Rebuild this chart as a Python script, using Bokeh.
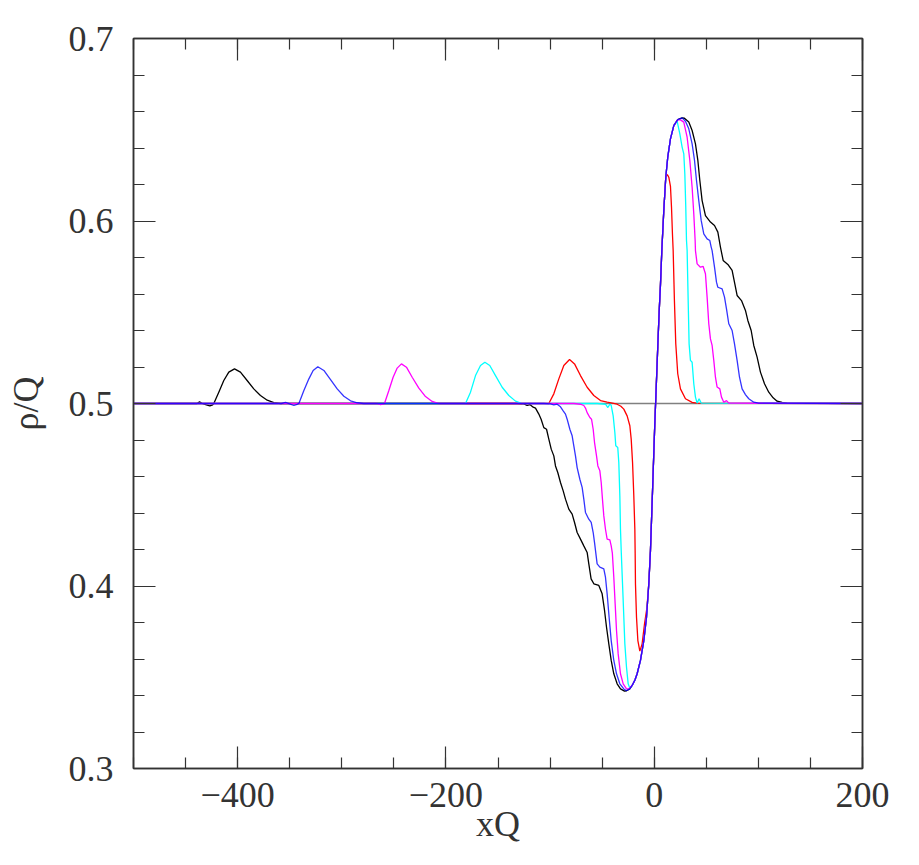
from bokeh.plotting import figure
from bokeh.models import Range1d, FixedTicker, LinearAxis, CustomJSTickFormatter
from bokeh.embed import file_html
from bokeh.resources import INLINE

# ---------------- data ----------------
x_major = [-400, -200, 0, 200]
x_major_labels = ["\u2212400", "\u2212200", "0", "200"]
x_minor = [-500, -450, -400, -350, -300, -250, -200, -150, -100, -50, 0, 50, 100, 150, 200]
y_major = [0.3, 0.4, 0.5, 0.6, 0.7]
y_major_labels = ["0.3", "0.4", "0.5", "0.6", "0.7"]
y_minor = [0.30, 0.32, 0.34, 0.36, 0.38, 0.40, 0.42, 0.44, 0.46, 0.48, 0.50,
           0.52, 0.54, 0.56, 0.58, 0.60, 0.62, 0.64, 0.66, 0.68, 0.70]

reference_x = [-500, 200]
reference_y = [0.5, 0.5]

# shared rising flank (trough -> peak) common to all curves
rise = [(-26.6, 0.3426), (-23.5, 0.3436), (-21.2, 0.3455), (-18.5, 0.3485), (-16.4, 0.3519),
        (-13.2, 0.3592), (-10.0, 0.3701), (-7.4, 0.3829), (-5.2, 0.4012), (-3.6, 0.4195),
        (-1.5, 0.4540), (0.5, 0.4880), (2.0, 0.5100), (3.4, 0.5310), (4.8, 0.5510),
        (6.0, 0.5650), (7.3, 0.5838), (9.2, 0.6058), (11.1, 0.6240), (13.0, 0.6350),
        (15.6, 0.6450), (18.8, 0.6523), (22.6, 0.6556), (26.8, 0.6565), (29.0, 0.6563)]

black_left = [(-500, 0.5), (-445, 0.5), (-439, 0.5), (-436.6, 0.5009), (-434, 0.5), (-430, 0.4992),
              (-426.7, 0.4987), (-424, 0.4993), (-422.9, 0.5), (-418.1, 0.5062), (-413.3, 0.5126),
              (-408.5, 0.5172), (-403.0, 0.5190), (-397.3, 0.5172), (-390.9, 0.5126), (-384.5, 0.5080),
              (-378.1, 0.5044), (-371.6, 0.5018), (-365.2, 0.5005), (-358.8, 0.5), (-131.6, 0.5),
              (-125.2, 0.4998), (-122.0, 0.4989), (-119.4, 0.4994), (-116.2, 0.4980), (-114.0, 0.4975),
              (-110.8, 0.4942), (-108.6, 0.4914), (-106.0, 0.4868), (-103.4, 0.4859), (-101.2, 0.4805),
              (-98.9, 0.4750), (-96.4, 0.4713), (-94.8, 0.4658), (-92.6, 0.4622), (-90.0, 0.4567),
              (-87.4, 0.4521), (-85.2, 0.4476), (-82.0, 0.4421), (-78.8, 0.4394), (-76.5, 0.4348),
              (-74.0, 0.4293), (-70.8, 0.4257), (-67.6, 0.4220), (-64.4, 0.4184), (-62.8, 0.4121),
              (-60.6, 0.4039), (-58.0, 0.4012), (-53.2, 0.4003), (-50.0, 0.3957), (-47.7, 0.3866),
              (-45.8, 0.3774), (-43.6, 0.3683), (-41.3, 0.3592), (-38.8, 0.3519), (-35.6, 0.3464),
              (-32.4, 0.3436), (-28.5, 0.3424)]
black_right = [(33.2, 0.6542), (36.4, 0.6496), (39.6, 0.6423), (41.9, 0.6332), (43.8, 0.6222),
               (46.0, 0.6112), (49.2, 0.6030), (54.0, 0.5994), (57.9, 0.5975), (61.1, 0.5939),
               (63.6, 0.5857), (66.2, 0.5784), (70.7, 0.5762), (74.8, 0.5729), (77.4, 0.5656),
               (79.6, 0.5592), (83.8, 0.5564), (87.6, 0.5510), (89.9, 0.5455), (93.1, 0.5400),
               (95.6, 0.5318), (98.8, 0.5254), (102.0, 0.5172), (105.9, 0.5108), (110.0, 0.5062),
               (114.2, 0.5031), (118.0, 0.5013), (122.8, 0.5006), (127.6, 0.5002), (200, 0.5)]

blue_left = [(-500, 0.5), (-358, 0.5), (-354, 0.5006), (-350, 0.4998), (-346, 0.4989), (-343, 0.4995),
             (-341.2, 0.5), (-336.4, 0.5071), (-331.6, 0.5135), (-327.5, 0.5181), (-323.0, 0.5201),
             (-317.2, 0.5181), (-310.8, 0.5131), (-304.4, 0.5080), (-298.0, 0.5040), (-291.6, 0.5015),
             (-285.2, 0.5004), (-278.8, 0.5), (-106.0, 0.5), (-99.6, 0.4998), (-96.4, 0.4993),
             (-93.2, 0.4996), (-90.0, 0.4982), (-87.4, 0.4960), (-85.2, 0.4942), (-83.6, 0.4914),
             (-81.0, 0.4859), (-78.8, 0.4823), (-77.2, 0.4768), (-75.6, 0.4713), (-74.0, 0.4649),
             (-71.4, 0.4585), (-69.2, 0.4540), (-67.6, 0.4476), (-66.0, 0.4403), (-62.8, 0.4366),
             (-60.5, 0.4348), (-58.6, 0.4293), (-57.3, 0.4238), (-56.4, 0.4195), (-54.8, 0.4121),
             (-52.2, 0.4103), (-48.4, 0.4094), (-46.8, 0.4048), (-45.2, 0.3957), (-43.3, 0.3829),
             (-41.3, 0.3701), (-38.8, 0.3592), (-36.2, 0.3519), (-33.0, 0.3464), (-29.2, 0.3436)]
blue_right = [(30.0, 0.6547), (33.2, 0.6505), (36.4, 0.6423), (38.7, 0.6332), (40.6, 0.6222),
              (42.8, 0.6112), (45.1, 0.6003), (47.6, 0.5930), (50.8, 0.5902), (53.4, 0.5893),
              (54.7, 0.5857), (55.6, 0.5838), (57.9, 0.5747), (59.8, 0.5665), (61.1, 0.5637),
              (65.2, 0.5628), (67.5, 0.5583), (69.4, 0.5519), (71.6, 0.5437), (74.8, 0.5400),
              (77.1, 0.5327), (79.6, 0.5236), (81.9, 0.5144), (84.4, 0.5080), (87.6, 0.5049),
              (90.8, 0.5026), (95.6, 0.5007), (100.4, 0.5002), (200, 0.5)]

magenta_left = [(-500, 0.5), (-266.0, 0.5), (-262.8, 0.4994), (-259.0, 0.5), (-254.8, 0.5071),
                (-250.7, 0.5144), (-246.8, 0.5194), (-242.7, 0.5217), (-237.9, 0.5199), (-232.4, 0.5144),
                (-226.0, 0.5084), (-219.6, 0.5038), (-213.2, 0.5011), (-206.8, 0.5), (-77.2, 0.5),
                (-70.8, 0.4996), (-67.6, 0.4989), (-66.0, 0.4975), (-64.4, 0.4950), (-61.8, 0.4923),
                (-60.2, 0.4914), (-58.6, 0.4859), (-57.3, 0.4786), (-55.4, 0.4713), (-54.1, 0.4658),
                (-52.2, 0.4631), (-50.9, 0.4567), (-49.7, 0.4476), (-48.4, 0.4384), (-46.8, 0.4311),
                (-45.2, 0.4257), (-42.6, 0.4253), (-41.3, 0.4220), (-40.2, 0.4180), (-38.8, 0.4048),
                (-37.5, 0.3902), (-36.2, 0.3756), (-34.6, 0.3628), (-32.4, 0.3519), (-29.8, 0.3464),
                (-26.6, 0.3436), (-24.4, 0.3436)]
magenta_right = [(25.2, 0.6554), (28.4, 0.6542), (31.6, 0.6459), (34.2, 0.6332), (36.4, 0.6185),
                 (38.0, 0.6039), (39.3, 0.5893), (39.6, 0.5838), (41.2, 0.5765), (44.4, 0.5747),
                 (47.0, 0.5751), (49.2, 0.5711), (50.8, 0.5583), (52.4, 0.5437), (54.0, 0.5354),
                 (55.6, 0.5318), (57.2, 0.5236), (58.8, 0.5144), (60.4, 0.5090), (63.0, 0.5080),
                 (64.6, 0.5035), (66.8, 0.5007), (69.4, 0.5016), (71.6, 0.5002), (200, 0.5)]

cyan_left = [(-500, 0.5), (-183.0, 0.5), (-181.2, 0.5), (-176.4, 0.5062), (-171.6, 0.5153),
             (-166.8, 0.5208), (-162.6, 0.5226), (-157.9, 0.5208), (-152.4, 0.5153), (-146.0, 0.5089),
             (-139.6, 0.5044), (-133.2, 0.5013), (-126.8, 0.5), (-54.8, 0.5), (-46.8, 0.4996),
             (-44.5, 0.4978), (-42.6, 0.4996), (-41.3, 0.4990), (-39.4, 0.4932), (-37.8, 0.4841),
             (-36.9, 0.4768), (-35.0, 0.4759), (-34.0, 0.4677), (-33.0, 0.4494), (-32.4, 0.4311),
             (-31.6, 0.4180), (-29.8, 0.3921), (-28.2, 0.3683), (-26.6, 0.3555), (-25.0, 0.3464),
             (-23.4, 0.3440)]
cyan_right = [(22.0, 0.6547), (24.6, 0.6478), (26.8, 0.6405), (28.4, 0.6368), (29.4, 0.6258),
              (30.3, 0.6076), (31.0, 0.5893), (31.6, 0.5838), (32.6, 0.5564), (33.5, 0.5327),
              (34.8, 0.5236), (36.4, 0.5226), (38.0, 0.5108), (39.6, 0.5035), (41.2, 0.5002),
              (43.1, 0.5026), (45.1, 0.5002), (200, 0.5)]

red_left = [(-500, 0.5), (-103.0, 0.5), (-101.2, 0.5), (-96.4, 0.5053), (-91.6, 0.5135),
            (-86.8, 0.5208), (-81.3, 0.5241), (-76.5, 0.5217), (-70.8, 0.5153), (-64.4, 0.5089),
            (-58.0, 0.5044), (-51.6, 0.5016), (-45.2, 0.5007), (-40.0, 0.5002), (-35.6, 0.4996),
            (-32.0, 0.4985), (-29.2, 0.4969), (-26.0, 0.4932), (-23.4, 0.4878), (-22.1, 0.4805),
            (-20.8, 0.4677), (-19.6, 0.4494), (-18.6, 0.4311), (-18.3, 0.4180), (-18.0, 0.4012),
            (-17.0, 0.3829), (-15.7, 0.3701), (-13.8, 0.3643), (-11.6, 0.3683), (-9.3, 0.3793),
            (-7.0, 0.3880)]
red_right = [(12.6, 0.6255), (14.0, 0.6240), (15.6, 0.6190), (16.6, 0.6076), (17.5, 0.5930),
             (18.2, 0.5838), (19.4, 0.5564), (20.7, 0.5327), (22.6, 0.5163), (25.2, 0.5080),
             (30.0, 0.5026), (36.4, 0.5006), (41.2, 0.5002), (200, 0.5)]

curves = [
    ("black", black_left + rise + black_right, "#000000", 1.0),
    ("red", red_left + rise[8:19] + red_right, "#ff0000", 1.0),
    ("cyan", cyan_left + rise[2:22] + cyan_right, "#00ffff", 1.0),
    ("magenta", magenta_left + rise[2:23] + magenta_right, "#ff00ff", 1.0),
    ("blue", blue_left + rise[0:24] + blue_right, "#0000ff", 0.8),
]

# ---------------- figure ----------------
FONT = "Liberation Serif"
AX = "#333333"
TXT = "#333333"

p = figure(width=919, height=865, output_backend="svg", toolbar_location=None,
           x_range=Range1d(-500, 200), y_range=Range1d(0.3, 0.7),
           min_border_left=133, min_border_right=57, min_border_top=38, min_border_bottom=97)
p.xgrid.visible = False
p.ygrid.visible = False
p.background_fill_color = "white"
p.border_fill_color = "white"
p.outline_line_color = AX
p.outline_line_width = 1.5

p.line(reference_x, reference_y, line_color="#808080", line_width=1.3)
for name, pts, col, alpha in curves:
    xs = [a for a, b in pts]
    ys = [b for a, b in pts]
    p.line(xs, ys, line_color=col, line_width=1.3, line_alpha=alpha)

xt = FixedTicker(ticks=x_major, minor_ticks=x_minor)
yt = FixedTicker(ticks=y_major, minor_ticks=y_minor)


def style(ax, ticker):
    ax.ticker = ticker
    ax.axis_line_color = AX
    ax.axis_line_width = 1.5
    ax.major_tick_line_color = AX
    ax.minor_tick_line_color = AX
    ax.major_tick_in = 22
    ax.major_tick_out = 0
    ax.minor_tick_in = 11
    ax.minor_tick_out = 0
    ax.major_tick_line_width = 1.2
    ax.minor_tick_line_width = 1.2


xa = p.xaxis[0]
style(xa, xt)
xa.major_label_overrides = {v: s for v, s in zip(x_major, x_major_labels)}
xa.major_label_text_font = FONT
xa.major_label_text_font_size = "36px"
xa.major_label_text_color = TXT
xa.major_label_standoff = 14
xa.axis_label = "xQ"
xa.axis_label_text_font = FONT
xa.axis_label_text_font_size = "36px"
xa.axis_label_text_font_style = "normal"
xa.axis_label_text_color = TXT
xa.axis_label_standoff = -6

ya = p.yaxis[0]
style(ya, yt)
ya.major_label_overrides = {v: s for v, s in zip(y_major, y_major_labels)}
ya.major_label_text_font = FONT
ya.major_label_text_font_size = "36px"
ya.major_label_text_color = TXT
ya.major_label_standoff = 20
ya.axis_label = "\u03c1/Q"
ya.axis_label_text_font = FONT
ya.axis_label_text_font_size = "36px"
ya.axis_label_text_font_style = "normal"
ya.axis_label_text_color = TXT
ya.axis_label_standoff = 20

blank = "return ''"
top = LinearAxis()
style(top, FixedTicker(ticks=x_major, minor_ticks=x_minor))
top.formatter = CustomJSTickFormatter(code=blank)
top.major_label_standoff = 0
p.add_layout(top, "above")

right = LinearAxis()
style(right, FixedTicker(ticks=y_major, minor_ticks=y_minor))
right.formatter = CustomJSTickFormatter(code=blank)
right.major_label_standoff = 0
p.add_layout(right, "right")

open("out.html", "w").write(file_html(p, INLINE))
